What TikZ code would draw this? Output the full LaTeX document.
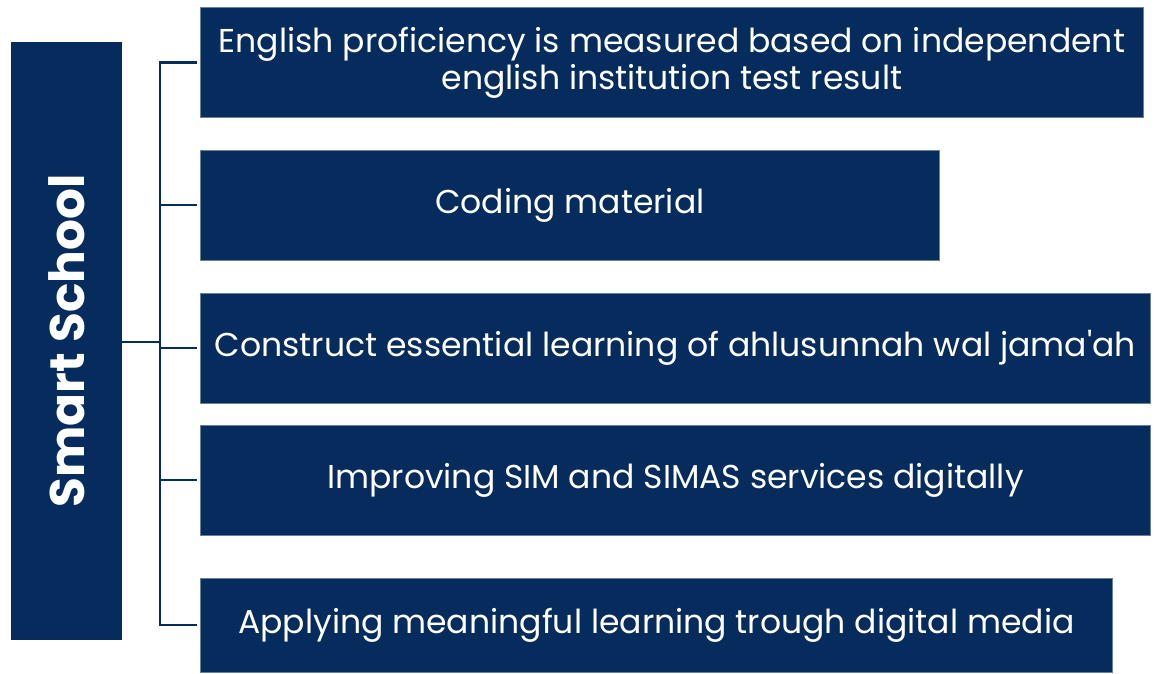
\documentclass[tikz,border=0pt]{standalone}
\usepackage{fontspec}
\setmainfont{Poppins}[Ligatures=TeXOff]
\usetikzlibrary{positioning,calc}
\definecolor{navy}{RGB}{5,44,92}
\tikzset{
	topic/.style={
		rectangle, fill=navy, draw=navy!60, thin, text=white, anchor=west,
		minimum height=2.75cm, inner sep=0pt, align=center,
		font=\fontsize{23.5}{26.5}\selectfont
	},
	%
	root/.style={
		rectangle, fill=navy, text=white, minimum width=2.775cm, minimum height=14.95cm,
		inner sep=0pt
	},
	%
	link/.style={
		draw=navy, line width=2.1pt
	}
}
\begin{document}
\begin{tikzpicture}[x=0.025cm,y=-0.025cm]
    \useasboundingbox (0,0) rectangle (1155,673);
    \node(S)[root] at (66.5,341){};
    \node[rotate=90, text=white, font=\fontsize{34.5}{40}\bfseries\selectfont] at (S.center){Smart School};
    \node(E)[topic, minimum width=23.575cm] at (200,62.5){English proficiency is measured based on independent\\english institution test result};
    \node(C)[topic, minimum width=18.475cm] at (200,205){Coding material};
    \node(A)[topic, minimum width=23.75cm] at (200,348){Construct essential learning of ahlusunnah wal jama'ah};
    \node(I)[topic, minimum width=23.75cm] at (200,480){Improving SIM and SIMAS services digitally};
    \node(M)[topic, minimum width=22.8cm, minimum height=2.35cm] at (200,625){Applying meaningful learning trough digital media};
    \coordinate(bus) at (160,342);
    \draw[link] (S.east |- bus) -- (bus);
    \draw[link] ([xshift=-3*0.025cm]E.west) -| (bus) |- ([xshift=-3*0.025cm]M.west);
    \draw[link] ([xshift=-3*0.025cm]C.west) -- (C.west -| bus);
    \draw[link] ([xshift=-3*0.025cm]A.west) -- (A.west -| bus);
    \draw[link] ([xshift=-3*0.025cm]I.west) -- (I.west -| bus);
\end{tikzpicture}
\end{document}
